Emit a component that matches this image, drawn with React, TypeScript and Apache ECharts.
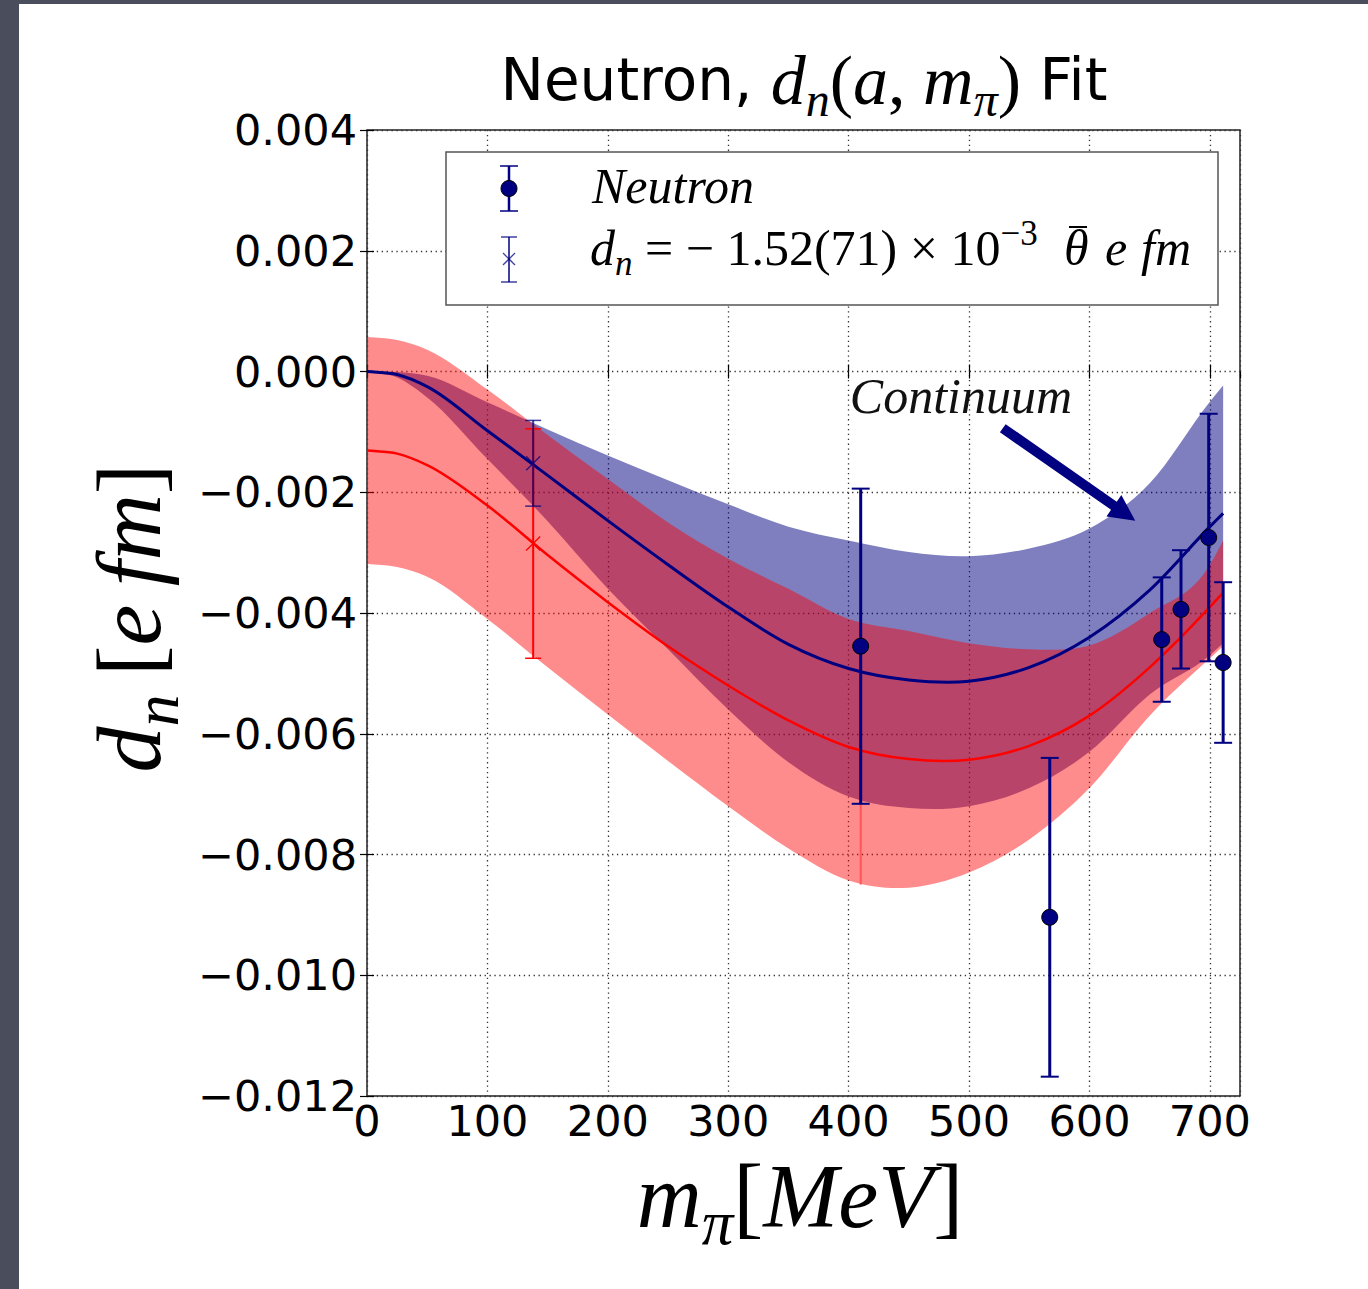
import React, { useEffect, useRef } from "react";
import * as echarts from "echarts";

// ---------- data ----------
const bandX = [0, 25, 50, 100, 150, 200, 250, 300, 350, 400, 450, 500, 550, 600, 650, 700, 711];
const blueCenter = [0, -0.00005, -0.00025, -0.00098, -0.00172, -0.00247, -0.0032, -0.0039, -0.00452, -0.00492, -0.00511, -0.00513, -0.0049, -0.0044, -0.00362, -0.00257, -0.00235];
const blueUpper = [0, -0.00001, -0.00007, -0.00051, -0.00096, -0.00139, -0.0018, -0.0022, -0.00257, -0.0028, -0.00299, -0.00306, -0.00293, -0.0026, -0.00185, -0.0005, -0.00023];
const blueLower = [0, -0.0001, -0.00043, -0.00145, -0.00248, -0.0036, -0.0046, -0.0056, -0.00647, -0.00704, -0.00723, -0.0072, -0.0069, -0.0063, -0.00535, -0.0047, -0.0045];
const redCenter = [-0.00131, -0.00136, -0.00155, -0.00222, -0.00304, -0.00382, -0.00455, -0.0052, -0.00578, -0.00622, -0.00642, -0.00643, -0.0062, -0.0057, -0.0049, -0.0039, -0.00366];
const redUpper = [0.00057, 0.00052, 0.00036, -0.0003, -0.00105, -0.00178, -0.0025, -0.0031, -0.0036, -0.0041, -0.0043, -0.0045, -0.0046, -0.00454, -0.004, -0.0032, -0.0028];
const redLower = [-0.00319, -0.00324, -0.0034, -0.0041, -0.0049, -0.00568, -0.00645, -0.0072, -0.0079, -0.00843, -0.00855, -0.0083, -0.00775, -0.0069, -0.0057, -0.00475, -0.00455];

// lattice data points (Neutron)
const pointX = [410, 567, 660, 676, 699, 711];
const pointY = [-0.00455, -0.00904, -0.00444, -0.00394, -0.00275, -0.00482];
const pointErr = [0.00261, 0.00264, 0.00103, 0.00098, 0.00205, 0.00133];

// physical pion mass extrapolations
const physMass = [138];
const physBlueY = [-0.00152];
const physBlueErr = [0.00071];
const physRedY = [-0.00285];
const physRedErr = [0.0019];

// faint red bar under the 410 MeV point
const ghostX = [410];
const ghostLo = [-0.0085];
const ghostHi = [-0.0041];

// annotation arrow (data coordinates)
const arrowFrom = [528, -0.00094];
const arrowTo = [638, -0.00247];
const continuumAt = [401, -0.00041];

// ---------- styling ----------
const NAVY = "#000080";
const RED = "#ff0000";
const SERIF = '"Liberation Serif", "DejaVu Serif", serif';
const SANS = '"DejaVu Sans", "Noto Sans", sans-serif';

const pairs = (xs: number[], ys: number[]) => xs.map((x, i) => [x, ys[i]]);

// cubic Hermite (x-parameterised) segments through pixel points, left to right
function hermiteSegments(p: number[][]) {
  const n = p.length;
  const d: number[] = [];
  for (let i = 0; i < n - 1; i++) d.push((p[i + 1][1] - p[i][1]) / (p[i + 1][0] - p[i][0]));
  const m: number[] = [];
  for (let i = 0; i < n; i++) {
    if (i === 0) m.push(d[0]);
    else if (i === n - 1) m.push(d[n - 2]);
    else {
      const h0 = p[i][0] - p[i - 1][0], h1 = p[i + 1][0] - p[i][0];
      m.push((d[i - 1] * h1 + d[i] * h0) / (h0 + h1));
    }
  }
  const segs: number[][][] = [];
  for (let i = 0; i < n - 1; i++) {
    const h = p[i + 1][0] - p[i][0];
    segs.push([
      p[i],
      [p[i][0] + h / 3, p[i][1] + (m[i] * h) / 3],
      [p[i + 1][0] - h / 3, p[i + 1][1] - (m[i + 1] * h) / 3],
      p[i + 1],
    ]);
  }
  return segs;
}
const f2 = (v: number) => v.toFixed(2);
function curveD(p: number[][], move: boolean) {
  const segs = hermiteSegments(p);
  let s = move ? `M${f2(p[0][0])},${f2(p[0][1])}` : `L${f2(p[0][0])},${f2(p[0][1])}`;
  segs.forEach((g) => (s += `C${f2(g[1][0])},${f2(g[1][1])} ${f2(g[2][0])},${f2(g[2][1])} ${f2(g[3][0])},${f2(g[3][1])}`));
  return s;
}
function reverseCurveD(p: number[][]) {
  const segs = hermiteSegments(p);
  const last = p[p.length - 1];
  let s = `L${f2(last[0])},${f2(last[1])}`;
  for (let i = segs.length - 1; i >= 0; i--) {
    const g = segs[i];
    s += `C${f2(g[2][0])},${f2(g[2][1])} ${f2(g[1][0])},${f2(g[1][1])} ${f2(g[0][0])},${f2(g[0][1])}`;
  }
  return s;
}

function bandSeries(id: string, lower: number[], upper: number[], color: string, opacity: number, z: number) {
  return {
    type: "custom", id, z, silent: true, clip: false,
    data: bandX.map((x, i) => [x, lower[i], upper[i]]),
    encode: { x: 0, y: [1, 2] },
    renderItem: (params: any, api: any) => {
      if (params.dataIndex !== 0) return null;
      const up = bandX.map((x, i) => api.coord([x, upper[i]]));
      const lo = bandX.map((x, i) => api.coord([x, lower[i]]));
      const d = curveD(up, true) + reverseCurveD(lo) + "Z";
      return { type: "path", shape: { pathData: d }, style: { fill: color, opacity, stroke: "none" } };
    },
  };
}

function curveSeries(id: string, ys: number[], color: string, width: number, z: number) {
  return {
    type: "custom", id, z, silent: true, clip: false,
    data: pairs(bandX, ys),
    encode: { x: 0, y: 1 },
    renderItem: (params: any, api: any) => {
      if (params.dataIndex !== 0) return null;
      const pts = bandX.map((x, i) => api.coord([x, ys[i]]));
      return { type: "path", shape: { pathData: curveD(pts, true) }, style: { fill: "none", stroke: color, lineWidth: width } };
    },
  };
}

type EB = { color: string; lw: number; capHalf: number; capLw: number; marker: "x" | "none"; markerHalf?: number; markerLw?: number };

function errorBarSeries(id: string, items: number[][], eb: EB, z: number) {
  return {
    type: "custom", id, z, silent: true, clip: false,
    data: items,
    encode: { x: 0, y: [1, 2, 3] },
    renderItem: (_p: any, api: any) => {
      const x = api.value(0), y = api.value(1), lo = api.value(2), hi = api.value(3);
      const pT = api.coord([x, hi]);
      const pB = api.coord([x, lo]);
      const pC = api.coord([x, y]);
      const children: any[] = [
        { type: "line", shape: { x1: pT[0], y1: pT[1], x2: pB[0], y2: pB[1] }, style: { stroke: eb.color, lineWidth: eb.lw } },
      ];
      if (eb.capHalf > 0) {
        [pT, pB].forEach((p) =>
          children.push({ type: "line", shape: { x1: p[0] - eb.capHalf, y1: p[1], x2: p[0] + eb.capHalf, y2: p[1] }, style: { stroke: eb.color, lineWidth: eb.capLw } })
        );
      }
      if (eb.marker === "x") {
        const h = eb.markerHalf || 6;
        children.push({ type: "line", shape: { x1: pC[0] - h, y1: pC[1] - h, x2: pC[0] + h, y2: pC[1] + h }, style: { stroke: eb.color, lineWidth: eb.markerLw || 1.5 } });
        children.push({ type: "line", shape: { x1: pC[0] - h, y1: pC[1] + h, x2: pC[0] + h, y2: pC[1] - h }, style: { stroke: eb.color, lineWidth: eb.markerLw || 1.5 } });
      }
      return { type: "group", children };
    },
  };
}

const yFormatter = (v: number) => {
  if (Math.abs(v) < 1e-9) return "0.000";
  const s = Math.abs(v).toFixed(3);
  return v < 0 ? "\u2212" + s : s;
};

function richMath(F: number, f: number, lineH: number, subPad: number, supPad: number) {
  return {
    m: { fontFamily: SERIF, fontStyle: "italic", fontSize: F, lineHeight: lineH, fill: "#000" },
    r: { fontFamily: SERIF, fontSize: F, lineHeight: lineH, fill: "#000" },
    sub: { fontFamily: SERIF, fontStyle: "italic", fontSize: f, height: f, lineHeight: lineH, padding: [subPad, 0, 0, 0], fill: "#000" },
    sup: { fontFamily: SERIF, fontSize: f, height: f, lineHeight: lineH, padding: [0, 0, supPad, 0], fill: "#000" },
  };
}

const txtAlign = (h: string) => ({ align: h, verticalAlign: "middle", textAlign: h, textVerticalAlign: "middle" });

function buildOption() {
  const blueItems = pointX.map((x, i) => [x, pointY[i], pointY[i] - pointErr[i], pointY[i] + pointErr[i]]);
  const physBlueItems = physMass.map((x, i) => [x, physBlueY[i], physBlueY[i] - physBlueErr[i], physBlueY[i] + physBlueErr[i]]);
  const physRedItems = physMass.map((x, i) => [x, physRedY[i], physRedY[i] - physRedErr[i], physRedY[i] + physRedErr[i]]);
  const ghostItems = ghostX.map((x, i) => [x, (ghostLo[i] + ghostHi[i]) / 2, ghostLo[i], ghostHi[i]]);

  const tickStyle = { show: true, inside: true, length: 7, lineStyle: { color: "#000", width: 1.2 } };
  const splitStyle = { show: true, lineStyle: { color: "#333", width: 1.3, type: [1.3, 3.6] as any } };
  const LEG_BLUE = "rgba(0,0,128,0.75)";

  return {
    animation: false,
    backgroundColor: "#ffffff",
    grid: { left: 367, top: 130, width: 873, height: 966, show: true, borderColor: "#222", borderWidth: 1.5, backgroundColor: "rgba(0,0,0,0)" },
    xAxis: [
      {
        type: "value", min: 0, max: 725, interval: 100, position: "bottom",
        axisLine: { show: false }, axisTick: tickStyle,
        axisLabel: { show: true, showMaxLabel: false, margin: 3, fontFamily: SANS, fontSize: 43, color: "#000" },
        splitLine: splitStyle,
      },
      {
        type: "value", min: 0, max: 725, interval: 100, position: "top",
        axisLine: { show: false }, axisTick: tickStyle, axisLabel: { show: false }, splitLine: { show: false },
      },
    ],
    yAxis: [
      {
        type: "value", min: -0.012, max: 0.004, interval: 0.002, position: "left",
        axisLine: { show: false }, axisTick: tickStyle,
        axisLabel: { show: true, margin: 10, fontFamily: SANS, fontSize: 43, color: "#000", formatter: yFormatter },
        splitLine: splitStyle,
      },
      {
        type: "value", min: -0.012, max: 0.004, interval: 0.002, position: "right",
        axisLine: { show: false }, axisTick: tickStyle, axisLabel: { show: false }, splitLine: { show: false },
      },
    ],
    series: [
      bandSeries("blueBand", blueLower, blueUpper, NAVY, 0.5, 1),
      bandSeries("redBand", redLower, redUpper, RED, 0.45, 2),
      errorBarSeries("ghost", ghostItems, { color: "rgba(255,40,40,0.55)", lw: 2, capHalf: 0, capLw: 0, marker: "none" }, 3),
      curveSeries("blueLine", blueCenter, NAVY, 3, 4),
      curveSeries("redLine", redCenter, RED, 2.5, 4),
      errorBarSeries("physRed", physRedItems, { color: RED, lw: 2, capHalf: 8, capLw: 1.5, marker: "x", markerHalf: 7, markerLw: 1.3 }, 5),
      errorBarSeries("physBlue", physBlueItems, { color: LEG_BLUE, lw: 2, capHalf: 8, capLw: 1.5, marker: "x", markerHalf: 7, markerLw: 1.3 }, 5),
      errorBarSeries("points", blueItems, { color: NAVY, lw: 3, capHalf: 9, capLw: 2, marker: "none" }, 6),
      {
        type: "scatter", id: "pointMarkers", z: 7, silent: true, data: pairs(pointX, pointY),
        symbol: "circle", symbolSize: 16, itemStyle: { color: NAVY, borderColor: "#000", borderWidth: 1, opacity: 1 },
      },
      {
        type: "custom", id: "annotation", z: 6, silent: true, clip: false,
        data: [[arrowFrom[0], arrowFrom[1], arrowTo[0], arrowTo[1], continuumAt[0], continuumAt[1]]],
        encode: { x: [0, 2, 4], y: [1, 3, 5] },
        renderItem: (_p: any, api: any) => {
          const p0 = api.coord([api.value(0), api.value(1)]);
          const p1 = api.coord([api.value(2), api.value(3)]);
          const pt = api.coord([api.value(4), api.value(5)]);
          const dx = p1[0] - p0[0], dy = p1[1] - p0[1];
          const L = Math.sqrt(dx * dx + dy * dy);
          const ux = dx / L, uy = dy / L;
          const nx = -uy, ny = ux;
          const sh = 5, hl = 26, hh = 13;
          const bx = p1[0] - ux * hl, by = p1[1] - uy * hl;
          const pts = [
            [p0[0] + nx * sh, p0[1] + ny * sh],
            [bx + nx * sh, by + ny * sh],
            [bx + nx * hh, by + ny * hh],
            [p1[0], p1[1]],
            [bx - nx * hh, by - ny * hh],
            [bx - nx * sh, by - ny * sh],
            [p0[0] - nx * sh, p0[1] - ny * sh],
          ];
          return {
            type: "group",
            children: [
              { type: "polygon", shape: { points: pts }, style: { fill: NAVY } },
              {
                type: "text",
                style: { text: "Continuum", x: pt[0], y: pt[1], fill: "#111", fontFamily: SERIF, fontStyle: "italic", fontSize: 50, ...txtAlign("left") },
              },
            ],
          };
        },
      },
    ],
    graphic: [
      // dark page edges
      { type: "rect", z: 100, shape: { x: 0, y: 0, width: 19, height: 1289 }, style: { fill: "#4a4e5c" } },
      { type: "rect", z: 100, shape: { x: 0, y: 0, width: 1368, height: 4 }, style: { fill: "#4a4e5c" } },
      // title
      {
        type: "text", z: 100, x: 804, y: 80,
        style: {
          text: "{s|Neutron, }{m|d}{sub|n}{r|(}{m|a}{r|, }{m|m}{sub|\u03c0}{r|)}{s| Fit}",
          ...txtAlign("center"), fill: "#000", lineHeight: 84,
          rich: {
            s: { fontFamily: SANS, fontSize: 58, lineHeight: 84, fill: "#000" },
            ...richMath(70, 48, 84, 38, 0),
          },
        },
      },
      // x axis name
      {
        type: "text", z: 100, x: 800, y: 1196,
        style: {
          text: "{m|m}{sub|\u03c0}{r|[}{m|MeV}{r|]}",
          ...txtAlign("center"), fill: "#000", lineHeight: 76,
          rich: richMath(90, 63, 76, 54, 0),
        },
      },
      // y axis name
      {
        type: "text", z: 100, x: 129, y: 618, rotation: Math.PI / 2,
        style: {
          text: "{m|d}{sub|n}{r|\u2009[}{m|e}{r|\u2009}{m|fm}{r|]}",
          ...txtAlign("center"), fill: "#000", lineHeight: 90,
          rich: richMath(92, 64, 90, 55, 0),
        },
      },
      // legend
      {
        type: "group", z: 100,
        children: [
          { type: "rect", z: 100, shape: { x: 446, y: 152, width: 772, height: 153 }, style: { fill: "#fff", stroke: "#555", lineWidth: 1.5 } },
          { type: "line", z: 101, shape: { x1: 509, y1: 166, x2: 509, y2: 211 }, style: { stroke: NAVY, lineWidth: 2.5 } },
          { type: "line", z: 101, shape: { x1: 500, y1: 166, x2: 518, y2: 166 }, style: { stroke: NAVY, lineWidth: 1.5 } },
          { type: "line", z: 101, shape: { x1: 500, y1: 211, x2: 518, y2: 211 }, style: { stroke: NAVY, lineWidth: 1.5 } },
          { type: "circle", z: 102, shape: { cx: 509, cy: 188.5, r: 8 }, style: { fill: NAVY, stroke: "#000", lineWidth: 1 } },
          { type: "line", z: 101, shape: { x1: 509, y1: 237, x2: 509, y2: 282 }, style: { stroke: LEG_BLUE, lineWidth: 2 } },
          { type: "line", z: 101, shape: { x1: 501, y1: 237, x2: 517, y2: 237 }, style: { stroke: LEG_BLUE, lineWidth: 1.5 } },
          { type: "line", z: 101, shape: { x1: 501, y1: 282, x2: 517, y2: 282 }, style: { stroke: LEG_BLUE, lineWidth: 1.5 } },
          { type: "line", z: 101, shape: { x1: 503, y1: 253, x2: 515, y2: 265 }, style: { stroke: LEG_BLUE, lineWidth: 1.3 } },
          { type: "line", z: 101, shape: { x1: 503, y1: 265, x2: 515, y2: 253 }, style: { stroke: LEG_BLUE, lineWidth: 1.3 } },
          {
            type: "text", z: 101, x: 592, y: 186,
            style: { text: "Neutron", fill: "#000", fontFamily: SERIF, fontStyle: "italic", fontSize: 50, ...txtAlign("left") },
          },
          {
            type: "text", z: 101, x: 590, y: 248,
            style: {
              text: "{m|d}{sub|n}{r| = \u2212 1.52(71) \u00d7 10}{sup|\u22123}",
              ...txtAlign("left"), fill: "#000", lineHeight: 70,
              rich: richMath(50, 35, 70, 30, 30),
            },
          },
          {
            type: "text", z: 101, x: 1064, y: 248,
            style: { text: "\u03b8", fill: "#000", fontFamily: SERIF, fontStyle: "italic", fontSize: 50, ...txtAlign("left") },
          },
          { type: "line", z: 101, shape: { x1: 1069, y1: 227, x2: 1087, y2: 227 }, style: { stroke: "#000", lineWidth: 2 } },
          {
            type: "text", z: 101, x: 1105, y: 248,
            style: { text: "e", fill: "#000", fontFamily: SERIF, fontStyle: "italic", fontSize: 50, ...txtAlign("left") },
          },
          {
            type: "text", z: 101, x: 1141, y: 248,
            style: { text: "fm", fill: "#000", fontFamily: SERIF, fontStyle: "italic", fontSize: 50, ...txtAlign("left") },
          },
        ],
      },
    ],
  };
}

export default function App() {
  const ref = useRef<HTMLDivElement>(null);
  useEffect(() => {
    if (!ref.current) return;
    const chart = echarts.init(ref.current, null, { renderer: "svg" });
    chart.setOption(buildOption() as any);
    return () => chart.dispose();
  }, []);
  return <div ref={ref} style={{ position: "fixed", left: 0, top: 0, width: 1368, height: 1289 }} />;
}
